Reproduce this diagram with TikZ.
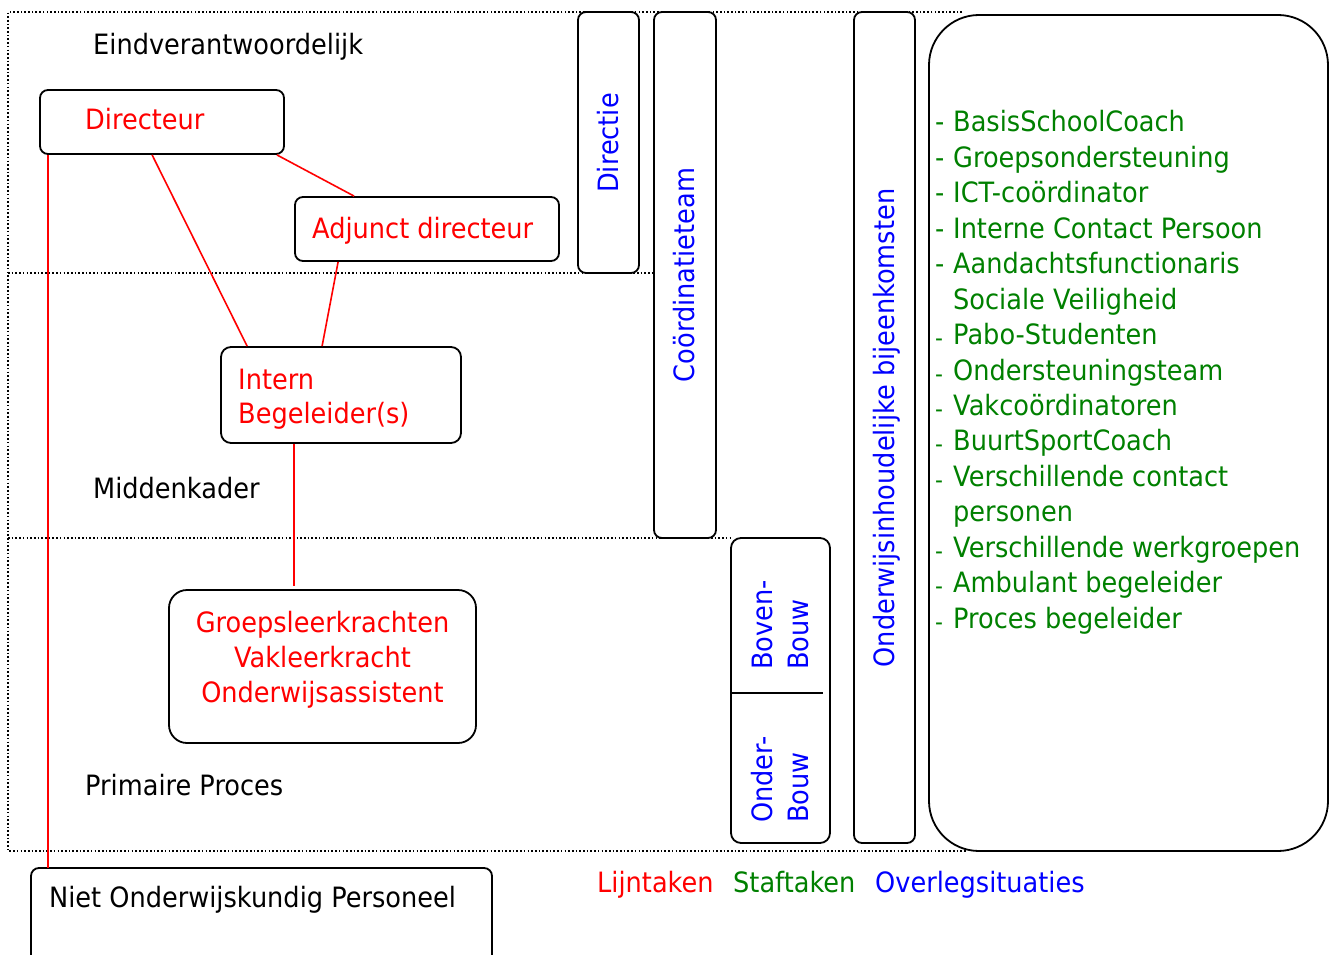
\documentclass[tikz,border=0pt]{standalone}
\usepackage{fontspec}
\setmainfont{DejaVu Sans}[FakeStretch=0.915]
\definecolor{tred}{RGB}{255,0,0}
\definecolor{tgreen}{RGB}{0,128,0}
\definecolor{tblue}{RGB}{0,0,255}
\newcommand{\bigdash}{\makebox[18pt][l]{-}}
\newcommand{\smalldash}{\makebox[18pt][l]{\raisebox{-2pt}{\fontsize{24}{24}\selectfont -}}}
\begin{document}
\begin{tikzpicture}[x=1pt,y=-1pt,
  box/.style={draw=black, line width=1.8pt, rounded corners=8pt, inner sep=0pt},
  txt/.style={anchor=base west, inner sep=0pt, font=\fontsize{28}{35}\selectfont},
  vtxt/.style={rotate=90, inner sep=0pt, text=tblue, font=\fontsize{28}{35}\selectfont},
  link/.style={draw=tred, line width=1.6pt},
  zone/.style={draw=black, line width=1.6pt, dash pattern=on 1.6pt off 2.1pt}
]
\useasboundingbox (0,0) rectangle (1331,955);
% dotted zones
\draw[zone] (962,12) -- (8,12) -- (8,851) -- (967,851);
\draw[zone] (8,273) -- (654,273);
\draw[zone] (8,538) -- (731,538);
% boxes
\node[box, minimum width=244pt, minimum height=64pt] (dir) at (162,122) {};
\node[box, minimum width=264pt, minimum height=64pt] (adj) at (427,229) {};
\node[box, rounded corners=10pt, minimum width=240pt, minimum height=96pt] (ib) at (341,395) {};
\node[box, rounded corners=18pt, minimum width=307pt, minimum height=153pt] (grp) at (322.5,666.5) {};
\coordinate (nptop) at (261.5,868);
\draw[line width=1.8pt, rounded corners=8pt] (31,960) -- (31,868) -- (492,868) -- (492,960);
\node[box, minimum width=61pt, minimum height=261pt] (directie) at (608.5,142.5) {};
\node[box, minimum width=62pt, minimum height=526pt] (coord) at (685,275) {};
\node[box, minimum width=61pt, minimum height=831pt] (onderw) at (884.5,427.5) {};
\node[box, rounded corners=10pt, minimum width=99pt, minimum height=305pt] (bouw) at (780.5,690.5) {};
\draw[line width=1.8pt] (bouw.west |- 0,693) coordinate (bdiv) -- (823,693);
\node[box, rounded corners=50pt, minimum width=399pt, minimum height=836pt] (staf) at (1128.5,433) {};
% connectors
\draw[link] ([xshift=-8pt]dir.south east) -- ([xshift=60pt]adj.north west);
\draw[link] ([xshift=113pt]dir.south west) -- ([xshift=27pt]ib.north west);
\draw[link] ([xshift=44pt]adj.south west) -- ([xshift=102pt]ib.north west);
\draw[link, shorten >=3pt] ([xshift=74pt]ib.south west) coordinate (ibs) -- (ibs |- grp.north);
\draw[link] ([xshift=9pt]dir.south west) coordinate (dsw) -- (dsw |- nptop);
% texts
\node[txt] (t1) at (93,55) {Eindverantwoordelijk};
\node[txt] (t2) at (93,498) {Middenkader};
\node[txt] (t3) at (85,795) {Primaire Proces};
\node[txt, text=tred] (tdir) at (85,130) {Directeur};
\node[txt, text=tred] (tadj) at (312,238) {Adjunct directeur};
\node[txt, text=tred] (tib1) at (238,389) {Intern};
\node[txt, text=tred] (tib2) at (238,423) {Begeleider(s)};
\node[txt, anchor=base, text=tred] (tg1) at (322.5,632) {Groepsleerkrachten};
\node[txt, anchor=base, text=tred] (tg2) at (322.5,667) {Vakleerkracht};
\node[txt, anchor=base, text=tred] (tg3) at (322.5,702) {Onderwijsassistent};
\node[txt] (tnp) at (49,907) {Niet Onderwijskundig Personeel};
% vertical labels
\node[vtxt, anchor=base] (vdir) at (618,143) {Directie};
\node[vtxt, anchor=base] (vco) at (694,275) {Coördinatieteam};
\node[vtxt, anchor=base] (von) at (894,428) {Onderwijsinhoudelijke bijeenkomsten};
\node[vtxt, anchor=base west] (vb1) at (772,670) {Boven-};
\node[vtxt, anchor=base west] (vb2) at (808,670) {Bouw};
\node[vtxt, anchor=base west] (vo1) at (772,823) {Onder-};
\node[vtxt, anchor=base west] (vo2) at (808,823) {Bouw};
% staff list
\foreach \t [count=\i] in {
  \bigdash BasisSchoolCoach,
  \bigdash Groepsondersteuning,
  \bigdash ICT-coördinator,
  \bigdash Interne Contact Persoon,
  \bigdash Aandachtsfunctionaris,
  \hspace*{18pt}Sociale Veiligheid,
  \smalldash Pabo-Studenten,
  \smalldash Ondersteuningsteam,
  \smalldash Vakcoördinatoren,
  \smalldash BuurtSportCoach,
  \smalldash Verschillende contact,
  \hspace*{18pt}personen,
  \smalldash Verschillende werkgroepen,
  \smalldash Ambulant begeleider,
  \smalldash Proces begeleider}
  \node[txt, text=tgreen] (s\i) at (935,{132+35.43*(\i-1)}) {\t};
% legend
\node[txt, text=tred] (lg1) at (597,892) {Lijntaken};
\node[txt, text=tgreen] (lg2) at (733,892) {Staftaken};
\node[txt, text=tblue] (lg3) at (875,892) {Overlegsituaties};
\end{tikzpicture}
\end{document}
